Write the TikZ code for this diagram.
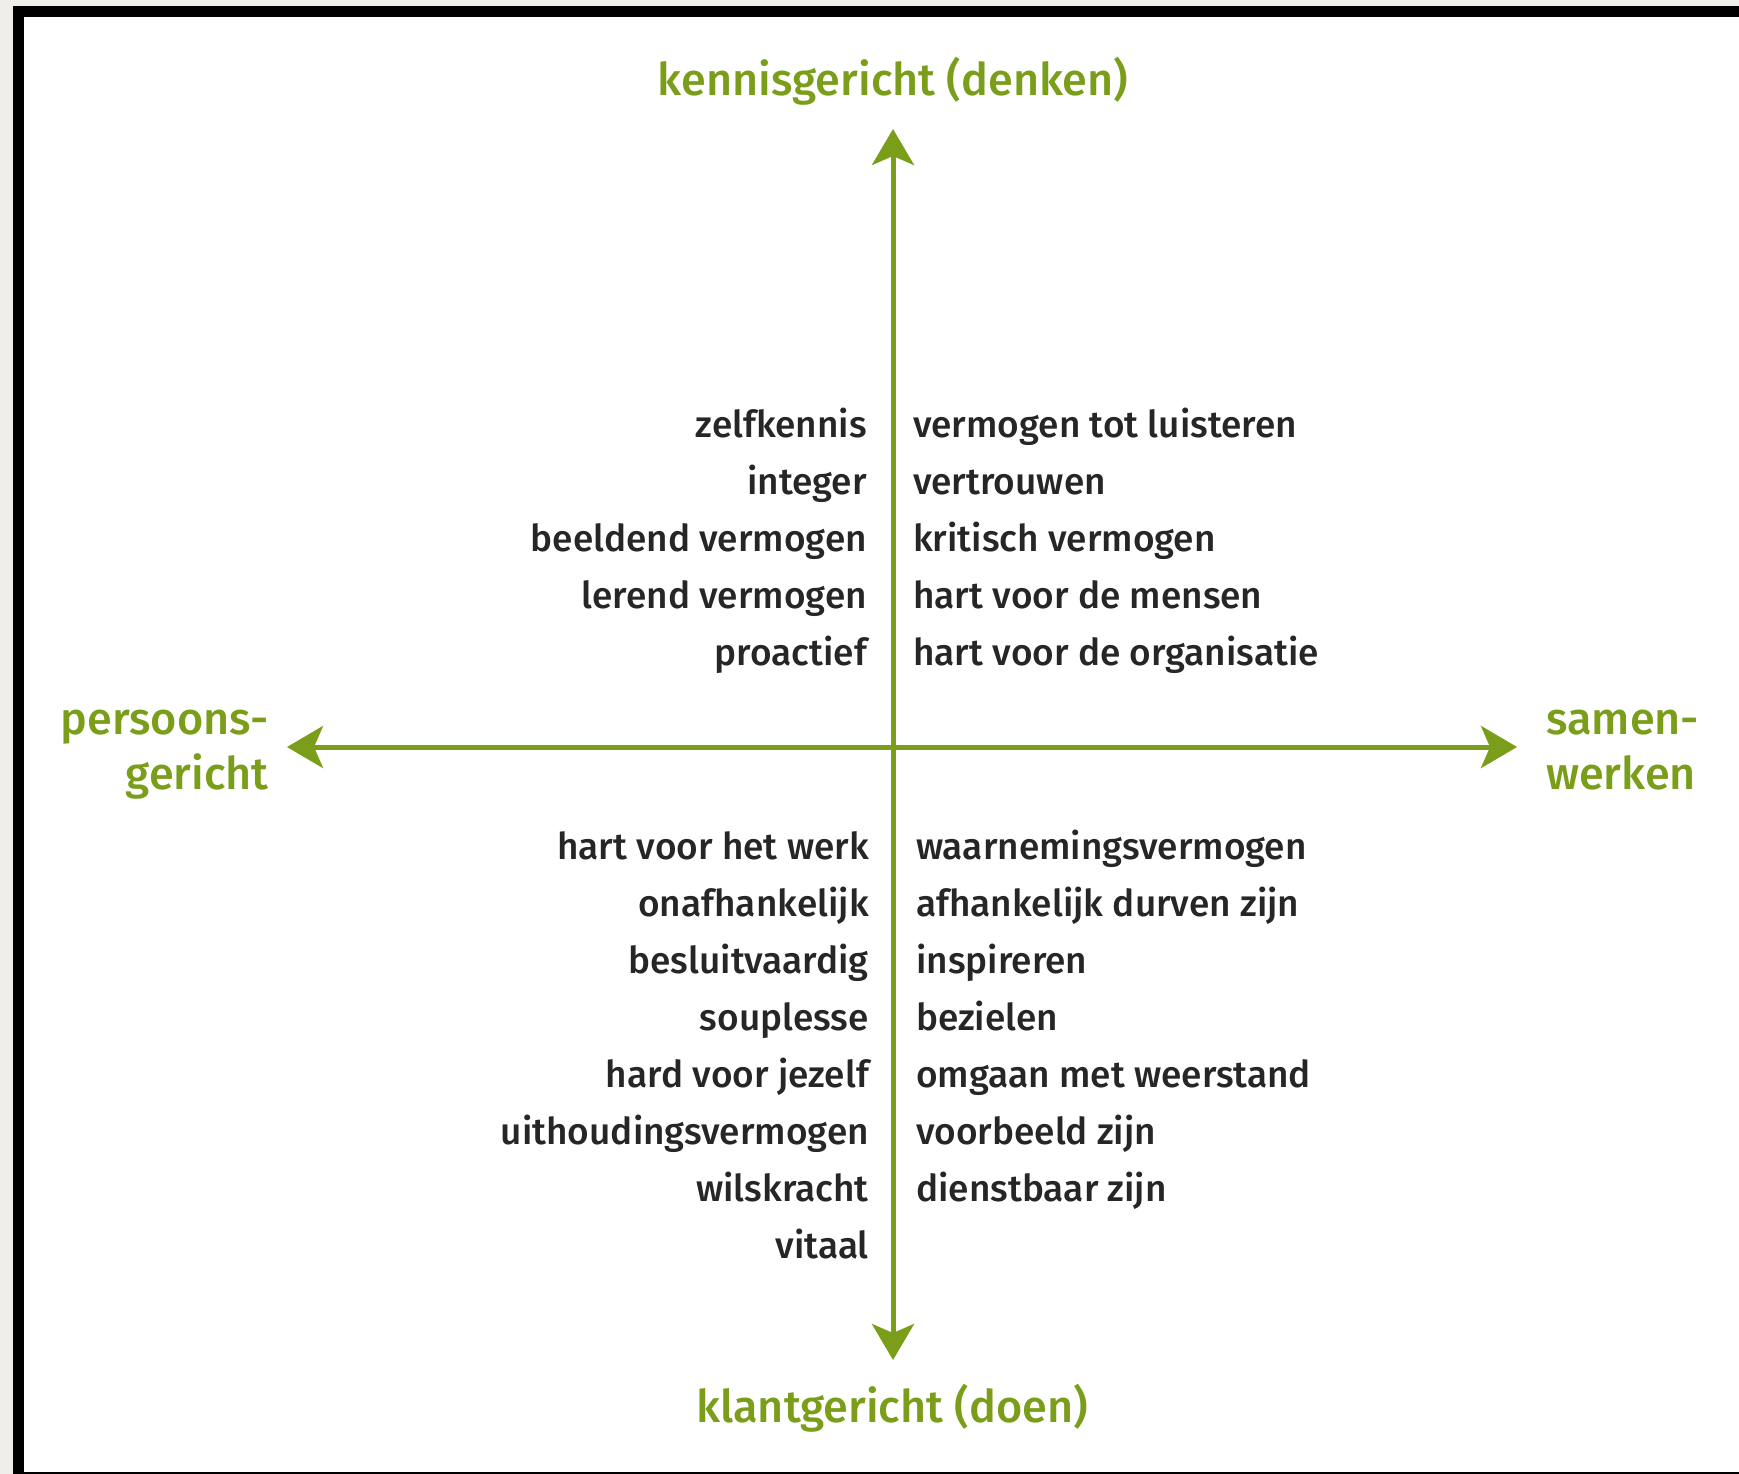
\documentclass[tikz,border=0pt]{standalone}
\usepackage{fontspec}
\setmainfont{Fira Sans}[UprightFont=* Medium]
\usetikzlibrary{arrows.meta}
\definecolor{axisgreen}{RGB}{122,158,26}
\definecolor{itemtext}{RGB}{38,38,38}
\definecolor{paper}{RGB}{240,238,233}
\tikzset{
  item/.style={inner sep=0pt, text=itemtext, font=\fontsize{37}{42}\selectfont},
  litem/.style={item, anchor=base east},
  ritem/.style={item, anchor=base west},
  axislabel/.style={inner sep=0pt, text=axisgreen, font=\fontsize{45}{52}\selectfont},
  axisline/.style={draw=axisgreen, line width=5pt, {Stealth[length=36pt,width=42pt,inset=9pt]}-{Stealth[length=36pt,width=42pt,inset=9pt]}}
}
\begin{document}
\begin{tikzpicture}[x=1pt,y=-1pt]
\useasboundingbox (0,0) rectangle (1739,1474);
\fill[paper] (0,0) rectangle (1739,1474);
\fill[black] (13,6) rectangle (1739,1474);
\fill[white] (24,17) rectangle (1739,1472);

\coordinate (top) at (893,129);
\coordinate (bottom) at (893,1360);
\coordinate (left) at (287,747);
\coordinate (right) at (1517,747);
\draw[axisline] (bottom) -- (top);
\draw[axisline] (left) -- (right);

\node[axislabel, anchor=base] (lt) at (893,96) {kennisgericht (denken)};
\node[axislabel, anchor=base] (lb) at (892,1422) {klantgericht (doen)};
\node[axislabel, anchor=base east] (ll1) at (269,734) {persoons-};
\node[axislabel, anchor=base east] (ll2) at (269,789) {gericht};
\node[axislabel, anchor=base west] (lr1) at (1546,734) {samen-};
\node[axislabel, anchor=base west] (lr2) at (1546,789) {werken};

\node[litem] (a1) at (867,437) {zelfkennis};
\node[litem] (a2) at (867,494) {integer};
\node[litem] (a3) at (867,551) {beeldend vermogen};
\node[litem] (a4) at (867,608) {lerend vermogen};
\node[litem] (a5) at (867,665) {proactief};

\node[ritem] (b1) at (913,437) {vermogen tot luisteren};
\node[ritem] (b2) at (913,494) {vertrouwen};
\node[ritem] (b3) at (913,551) {kritisch vermogen};
\node[ritem] (b4) at (913,608) {hart voor de mensen};
\node[ritem] (b5) at (913,665) {hart voor de organisatie};

\node[litem] (c1) at (869,859) {hart voor het werk};
\node[litem] (c2) at (869,916) {onafhankelijk};
\node[litem] (c3) at (869,973) {besluitvaardig};
\node[litem] (c4) at (869,1030) {souplesse};
\node[litem] (c5) at (869,1087) {hard voor jezelf};
\node[litem] (c6) at (869,1144) {uithoudingsvermogen};
\node[litem] (c7) at (869,1201) {wilskracht};
\node[litem] (c8) at (869,1258) {vitaal};

\node[ritem] (d1) at (916,859) {waarnemingsvermogen};
\node[ritem] (d2) at (916,916) {afhankelijk durven zijn};
\node[ritem] (d3) at (916,973) {inspireren};
\node[ritem] (d4) at (916,1030) {bezielen};
\node[ritem] (d5) at (916,1087) {omgaan met weerstand};
\node[ritem] (d6) at (916,1144) {voorbeeld zijn};
\node[ritem] (d7) at (916,1201) {dienstbaar zijn};
\end{tikzpicture}
\end{document}
